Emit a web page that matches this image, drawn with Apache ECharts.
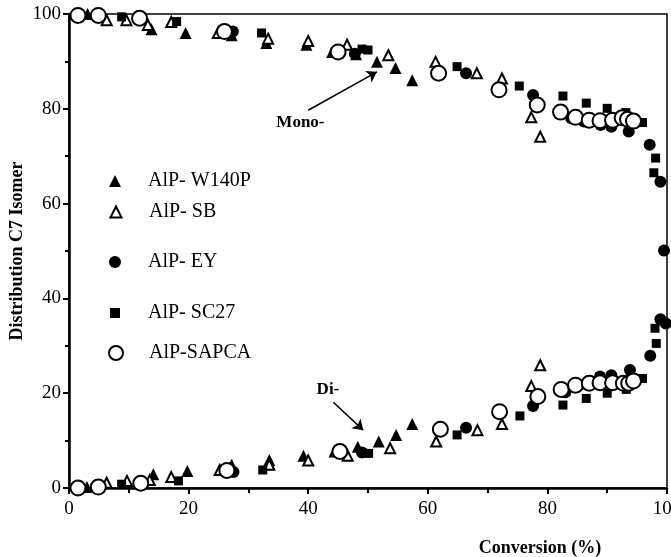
<!DOCTYPE html>
<html>
<head>
<meta charset="utf-8">
<script src="https://cdn.jsdelivr.net/npm/echarts@6/dist/echarts.min.js"></script>
<style>
  html, body { margin: 0; padding: 0; background: #fff; }
  #main { width: 671px; height: 557px; }
</style>
</head>
<body>
<div id="main"></div>
<script>
// conversion (%) vs isomer distribution, upper branch = mono-, lower = di-
const w140pMono = [[3.1,100],[13.8,96.8],[19.5,96],[27.2,95.5],[33,93.9],[39.7,93.5],[44,92],[48,91.5],[51.5,89.9],[54.6,88.6],[57.4,86]];
const w140pDi = [[3,0.2],[14.1,2.9],[19.8,3.6],[27.2,4.9],[33.5,5.9],[39.2,6.8],[48.3,8.7],[51.8,9.8],[54.7,11.2],[57.4,13.5]];

const sbMono = [[6.3,98.7],[9.6,98.7],[13.2,97.7],[17.1,98.3],[24.9,96],[33.3,94.8],[40,94.3],[46.5,93.5],[53.4,91.3],[61.3,89.9],[68.2,87.5],[72.4,86.4],[77.3,78.2],[78.8,74.1]];
const sbDi = [[6.3,1.1],[9.7,1.5],[13.5,1.7],[17.1,2.3],[25.2,3.8],[33.5,4.9],[40,5.8],[44.5,7.7],[46.6,6.8],[53.7,8.4],[61.4,9.8],[68.3,12.2],[72.4,13.5],[77.3,21.5],[78.8,25.9]];

const eyMono = [[27.4,96.3],[47.8,91.6],[66.4,87.5],[77.6,82.9],[84,78],[86.1,77.3],[88.9,76.6],[90.7,76.2],[93.6,75.2],[97.1,72.4],[98.9,64.6],[99.5,50.1]];
const eyDi = [[27.5,3.4],[49,7.5],[66.4,12.7],[77.6,17.3],[83,20.2],[86.7,22.4],[88.8,23.5],[90.7,23.8],[93.8,24.9],[97.2,27.9],[98.9,35.6],[99.8,34.7]];

const sc27Mono = [[8.8,99.4],[18,98.4],[32.2,96],[49,92.6],[50,92.4],[64.9,88.9],[75.3,84.8],[82.6,82.7],[86.5,81.2],[90,80.1],[93.1,79.2],[95.9,77.1],[98.1,69.6],[97.8,66.5]];
const sc27Di = [[8.8,0.8],[18.3,1.5],[32.4,3.8],[50.1,7.3],[64.9,11.2],[75.4,15.2],[82.6,17.5],[86.5,18.9],[90,20],[93.2,20.8],[95.9,23.1],[98.2,30.5],[98,33.7]];

const sapcaMono = [[1.5,99.7],[4.9,99.7],[11.8,99.1],[26,96.3],[45,92],[61.8,87.5],[71.9,84],[78.3,80.8],[82.2,79.3],[84.7,78.2],[87,77.6],[88.8,77.5],[90.9,77.6],[92.5,78.1],[93.4,77.8],[94.4,77.4]];
const sapcaDi = [[1.5,0],[4.9,0.2],[12,1],[26.4,3.7],[45.3,7.7],[62.1,12.4],[72,16.1],[78.4,19.3],[82.3,20.8],[84.7,21.7],[87,22.1],[88.8,22.2],[90.9,22.2],[92.7,22.1],[93.6,22.1],[94.4,22.6]];

const names = ['AlP- W140P', 'AlP- SB', 'AlP- EY', 'AlP- SC27', 'AlP-SAPCA'];
const yTicks = [0, 20, 40, 60, 80, 100];
const xTicks = [0, 20, 40, 60, 80, 100];

const serif = '"Liberation Serif", "DejaVu Serif", serif';
const filled = { color: '#000', opacity: 1 };
const open = { color: '#fff', borderColor: '#000', borderWidth: 2, opacity: 1 };

const chart = echarts.init(document.getElementById('main'));

function mkSeries(name, data, symbol, size, style) {
  return {
    name: name,
    type: 'scatter',
    data: data,
    symbol: symbol,
    symbolSize: size,
    itemStyle: style,
    clip: false,
    z: 3
  };
}

function mkLegend(name, top, size) {
  return {
    data: [name],
    orient: 'vertical',
    left: 110 - size / 2,
    top: top - 10,
    itemWidth: size,
    itemHeight: size,
    selectedMode: false,
    textStyle: {
      fontFamily: serif, fontSize: 20, color: '#000', lineHeight: 20,
      padding: [0, 0, 0, 143 - (110 + size / 2) - 5]
    }
  };
}

const option = {
  animation: false,
  backgroundColor: '#fff',
  grid: {
    left: 69, right: 4, top: 14, bottom: 69,
    containLabel: false, outerBoundsMode: 'none',
    show: true, borderColor: '#000', borderWidth: 1.5
  },
  legend: [
    mkLegend(names[0], 176, 12),
    mkLegend(names[1], 207, 11),
    mkLegend(names[2], 257, 12),
    mkLegend(names[3], 308, 10),
    mkLegend(names[4], 348, 14)
  ],
  xAxis: {
    type: 'value', min: xTicks[0], max: xTicks[xTicks.length - 1], interval: 20,
    name: 'Conversion (%)', nameLocation: 'middle', nameGap: 51, nameMoveOverlap: false,
    nameTextStyle: { fontFamily: serif, fontSize: 18, fontWeight: 'bold', color: '#000', padding: [0, 0, 0, 344] },
    axisLine: { onZero: false, lineStyle: { color: '#000', width: 2.5 } },
    axisTick: { inside: false, length: 6, lineStyle: { color: '#000', width: 2 } },
    minorTick: { show: true, splitNumber: 2, length: 5, lineStyle: { color: '#000', width: 2 } },
    axisLabel: { fontFamily: serif, fontSize: 19, color: '#000', margin: 12 },
    splitLine: { show: false }
  },
  yAxis: {
    type: 'value', min: yTicks[0], max: yTicks[yTicks.length - 1], interval: 20,
    name: 'Distribution C7 Isomer', nameLocation: 'middle', nameGap: 43, nameMoveOverlap: false,
    nameTextStyle: { fontFamily: serif, fontSize: 18, fontWeight: 'bold', color: '#000' },
    axisLine: { onZero: false, lineStyle: { color: '#000', width: 2.5 } },
    axisTick: { inside: false, length: 6, lineStyle: { color: '#000', width: 2 } },
    minorTick: { show: true, splitNumber: 2, length: 4, lineStyle: { color: '#000', width: 2 } },
    axisLabel: { fontFamily: serif, fontSize: 19, color: '#000', margin: 8 },
    splitLine: { show: false }
  },
  series: [
    mkSeries(names[0], w140pMono.concat(w140pDi), 'triangle', 12, filled),
    mkSeries(names[1], sbMono.concat(sbDi), 'triangle', 10, open),
    mkSeries(names[2], eyMono.concat(eyDi), 'circle', 12, filled),
    mkSeries(names[3], sc27Mono.concat(sc27Di), 'rect', 9, filled),
    mkSeries(names[4], sapcaMono.concat(sapcaDi), 'circle', 15, open),
    {
      // annotation arrows + labels
      type: 'scatter',
      data: [],
      silent: true,
      markLine: {
        silent: true,
        symbol: ['none', 'arrow'],
        symbolSize: 10,
        label: { show: false },
        lineStyle: { color: '#000', width: 1.5, type: 'solid' },
        data: [
          [{ coord: [40, 79.7] }, { coord: [51.5, 87.8] }],
          [{ coord: [44.2, 18.1] }, { coord: [49.2, 12.2] }]
        ]
      },
      markPoint: {
        silent: true,
        symbol: 'circle',
        symbolSize: 1,
        itemStyle: { color: 'rgba(0,0,0,0)' },
        label: {
          show: true, position: 'inside', fontFamily: serif, fontSize: 17,
          fontWeight: 'bold', color: '#000', formatter: '{b}'
        },
        data: [
          { name: 'Mono-', coord: [38.7, 77] },
          { name: 'Di-', coord: [43.3, 20.7] }
        ]
      }
    }
  ]
};

chart.setOption(option);
</script>
</body>
</html>
